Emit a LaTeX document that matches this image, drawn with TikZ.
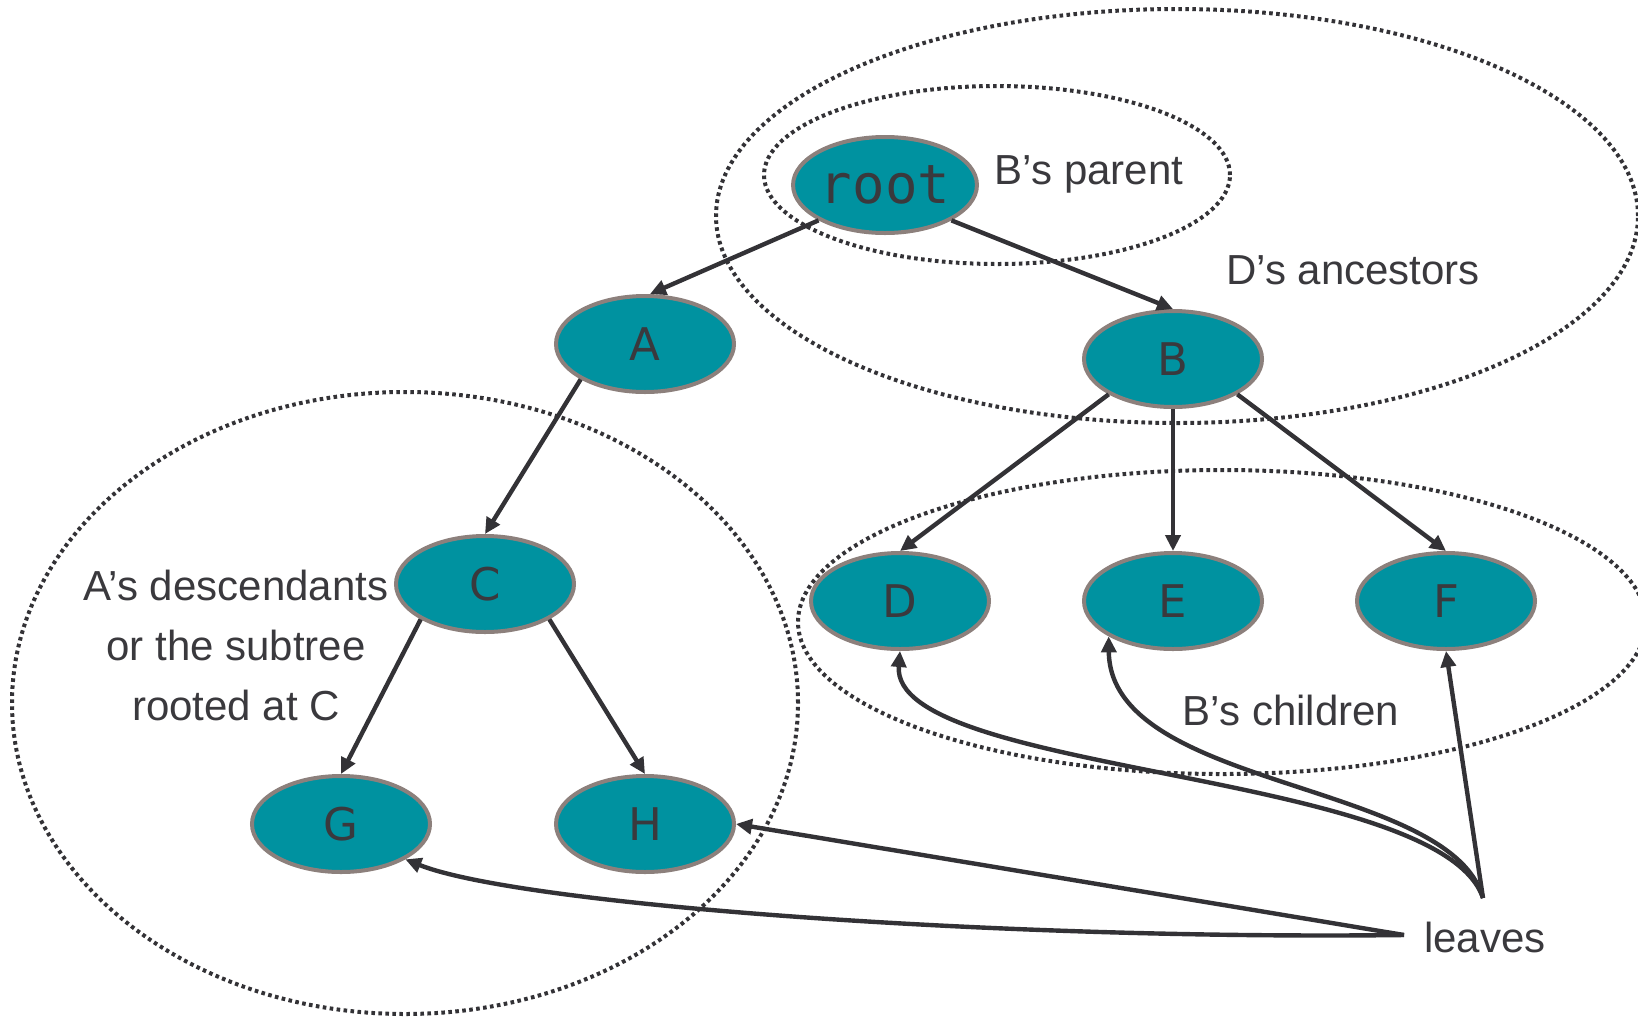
\documentclass[tikz,border=0pt]{standalone}
\usepackage{fontspec}
\setmainfont{Liberation Sans}
\newfontfamily\nodefont{DejaVu Sans}
\newfontfamily\codefont{DejaVu Sans Mono}
\usetikzlibrary{arrows.meta,shapes.geometric}
\definecolor{teal}{HTML}{0092A0}
\definecolor{rim}{HTML}{8C807C}
\definecolor{ink}{HTML}{3A393D}
\definecolor{wire}{HTML}{333236}
\begin{document}
\begin{tikzpicture}[x=1pt,y=-1pt,
  treenode/.style={ellipse,draw=rim,line width=4pt,fill=teal,
    minimum width=178pt,minimum height=96pt,inner sep=0pt,
    text=ink,font=\nodefont\fontsize{45}{50}\selectfont},
  region/.style={draw=wire,line width=4pt,dash pattern=on 3.6pt off 3.4pt},
  edge/.style={draw=wire,line width=4.4pt,-{Triangle[length=16pt,width=15pt]}},
  note/.style={text=ink,font=\fontsize{42}{60}\selectfont,align=center,inner sep=0pt}]
\useasboundingbox (0,0) rectangle (1638,1021);

% dotted regions
\draw[region] (997,175) ellipse [x radius=233pt, y radius=89pt];
\draw[region] (1177,216) ellipse [x radius=461pt, y radius=207pt];
\draw[region] (1222,622) ellipse [x radius=424pt, y radius=152pt];
\draw[region] (405,703) ellipse [x radius=393pt, y radius=311pt];

% tree nodes
\node[treenode,font=\codefont\fontsize{54}{58}\selectfont] (root) at (885,185) {root};
\node[treenode] (A) at (645,344) {A};
\node[treenode] (B) at (1173,359) {B};
\node[treenode] (C) at (485,584) {C};
\node[treenode] (D) at (900,601) {D};
\node[treenode] (E) at (1173,601) {E};
\node[treenode] (F) at (1446,601) {F};
\node[treenode] (G) at (341,824) {G};
\node[treenode] (H) at (645,824) {H};

% annotations
\node[note] (parent) at (1089,174) {B’s parent};
\node[note] (anc) at (1353,270) {D’s ancestors};
\node[note] (kids) at (1291,710) {B’s children};
\node[note] (desc) at (236,645) {A’s descendants\\or the subtree\\rooted at C};
\node[note,anchor=west] (leaves) at (1424,937) {leaves};
\coordinate (l1) at (1483,898);
\coordinate (l2) at (1404,935);

% tree edges
\draw[edge] (root.south west) -- ([xshift=5pt]A.north);
\draw[edge] (root.south east) -- (B.north);
\draw[edge] (A.south west) -- (C.north);
\draw[edge] (B.south west) -- (D.north);
\draw[edge] (B.south) -- (E.north);
\draw[edge] (B.south east) -- (F.north);
\draw[edge] (C.south west) -- (G.north);
\draw[edge] (C.south east) -- (H.north);

% pointers from the leaves label
\draw[edge] (l1) .. controls (1440,770) and (890,775) .. (D.south);
\draw[edge] (l1) .. controls (1450,780) and (1110,790) .. (E.south west);
\draw[edge] (l1) -- (F.south);
\draw[edge] (l2) -- (H.east);
\draw[edge] (l2) .. controls (1000,940) and (520,905) .. (G.south east);
\end{tikzpicture}
\end{document}
